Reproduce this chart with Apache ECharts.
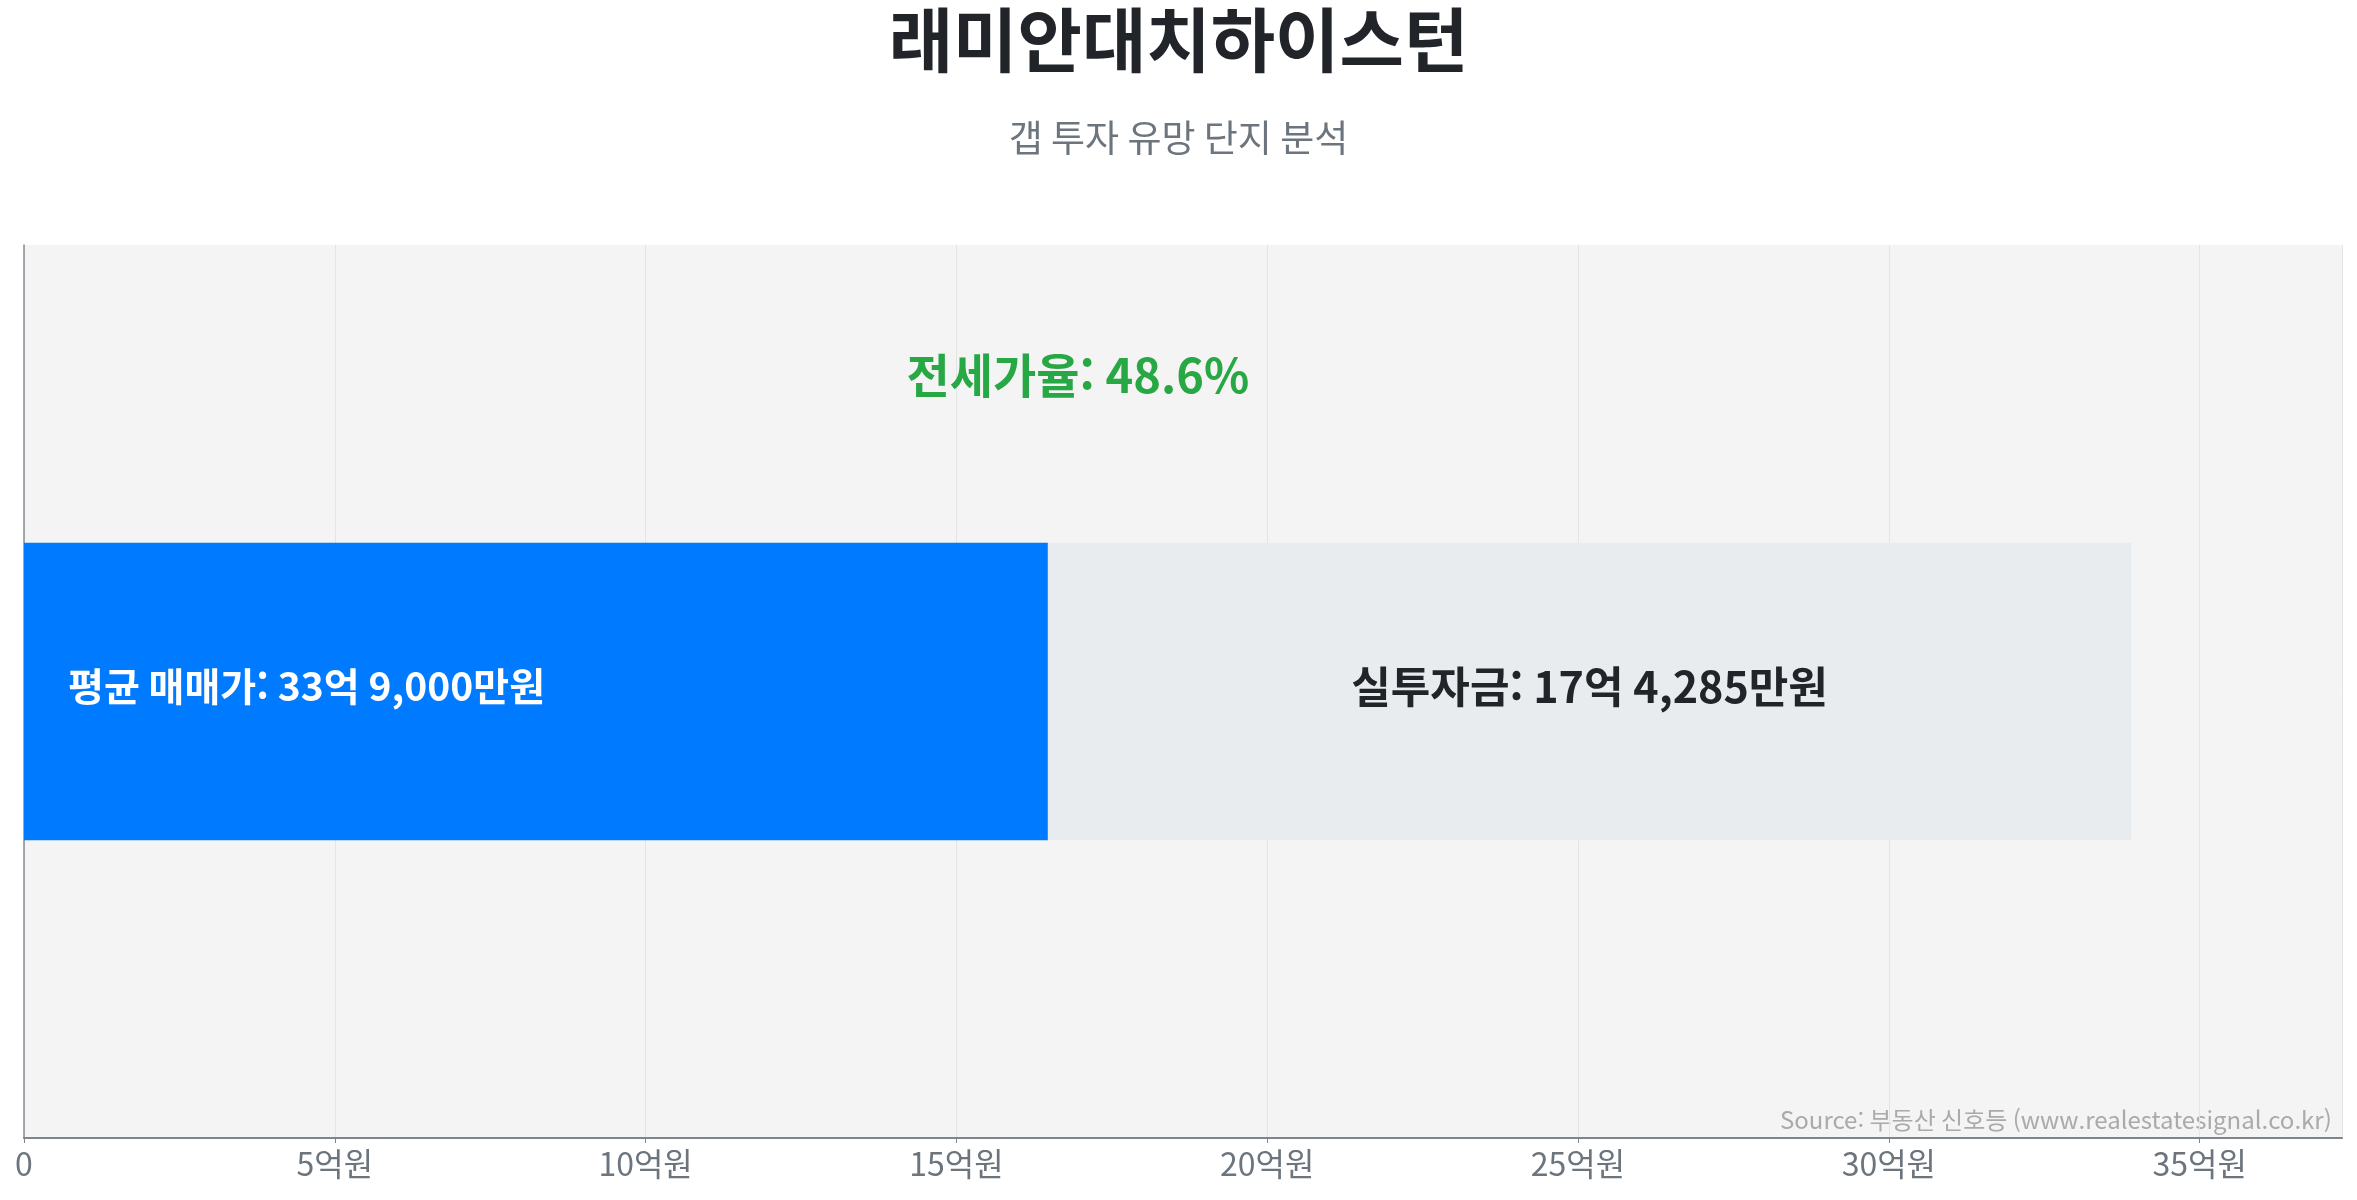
<!DOCTYPE html>
<html lang="ko">
<head>
    <meta charset="UTF-8">
    <title>래미안대치하이스턴 갭 투자 분석</title>
    <script src="https://cdn.jsdelivr.net/npm/echarts@6/dist/echarts.min.js"></script>
    <style>
        html, body { margin: 0; padding: 0; background: #fff; }
        #chart { width: 2357px; height: 1200px; }
    </style>
</head>
<body>
<div id="chart"></div>
<script type="text/javascript">
    // values in 만원
    const complexName = ['래미안대치하이스턴'];
    const salePrice = [339000];
    const investAmount = [174285];
    const jeonseRatio = [48.6];
    const jeonseAmount = [salePrice[0] - investAmount[0]];
    const tickStep = 50000;

    const font = '"Noto Sans CJK KR", "Noto Sans", sans-serif';

    function won(v) {
        let eok = Math.floor(v / 10000);
        let man = v % 10000;
        return eok + '억 ' + man.toLocaleString('en-US') + '만원';
    }

    let chart = echarts.init(document.getElementById('chart'));
    chart.setOption({
        textStyle: { fontFamily: font },
        title: [{
            text: complexName[0],
            left: 'center',
            top: 0,
            textStyle: { fontSize: 70, fontWeight: 'bold', color: '#212529', fontFamily: font }
        }, {
            text: '갭 투자 유망 단지 분석',
            left: 'center',
            top: 114,
            textStyle: { fontSize: 37, fontWeight: 'normal', color: '#6c757d', fontFamily: font }
        }],
        grid: {
            left: 24, right: 15, top: 245, bottom: 62,
            show: true, backgroundColor: '#f4f4f4', borderWidth: 0
        },
        xAxis: {
            type: 'value',
            min: 0,
            max: salePrice[0] * 1.1,
            interval: tickStep,
            axisLine: { show: true, lineStyle: { color: '#7d848b', width: 2 } },
            axisTick: { show: true, length: 5, lineStyle: { color: '#7d848b' } },
            axisLabel: {
                fontSize: 32, color: '#6c757d', margin: 10, fontFamily: font,
                showMaxLabel: false,
                formatter: v => v === 0 ? '0' : (v / 10000) + '억원'
            },
            splitLine: { show: true, lineStyle: { color: '#e4e4e4', width: 1 } }
        },
        yAxis: {
            type: 'category',
            data: complexName,
            axisLine: { show: true, lineStyle: { color: '#868e96', width: 1.5 } },
            axisTick: { show: false },
            axisLabel: { show: false }
        },
        series: [{
            name: '전세가',
            type: 'bar',
            stack: 'total',
            barWidth: '33.3%',
            data: jeonseAmount,
            itemStyle: { color: '#007bff' },
            label: {
                show: true,
                position: 'insideLeft',
                distance: 44,
                offset: [0, -5],
                color: '#fff',
                fontSize: 39,
                fontWeight: 'bold',
                fontFamily: font,
                formatter: () => '평균 매매가: ' + won(salePrice[0])
            },
            markPoint: {
                symbol: 'circle',
                symbolSize: 0,
                data: [{ coord: [jeonseAmount[0], 0] }],
                label: {
                    show: true,
                    position: 'inside',
                    offset: [30, -316],
                    color: '#28a745',
                    fontSize: 47,
                    fontWeight: 'bold',
                    fontFamily: font,
                    formatter: () => '전세가율: ' + jeonseRatio[0] + '%'
                }
            }
        }, {
            name: '실투자금',
            type: 'bar',
            stack: 'total',
            data: investAmount,
            itemStyle: { color: '#e9ecef' },
            label: {
                show: true,
                position: 'inside',
                offset: [0, -5],
                color: '#212529',
                fontSize: 43,
                fontWeight: 'bold',
                fontFamily: font,
                formatter: () => '실투자금: ' + won(investAmount[0])
            }
        }],
        graphic: [{
            type: 'text',
            right: 27,
            top: 1108,
            style: {
                text: 'Source: 부동산 신호등 (www.realestatesignal.co.kr)',
                fill: '#aaaaaa',
                font: '24px ' + font
            }
        }]
    });
</script>
</body>
</html>
